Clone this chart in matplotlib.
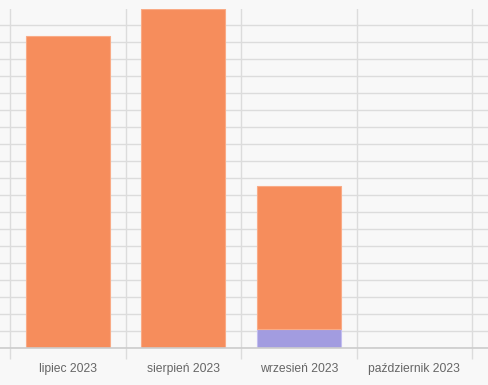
import matplotlib
matplotlib.use("Agg")
import matplotlib.pyplot as plt
import numpy as np

categories = ["lipiec 2023", "sierpień 2023", "wrzesień 2023", "październik 2023"]
series_purple = [0.0, 0.0, 1.1, 0.0]
series_orange = [18.35, 19.95, 8.45, 0.0]

fig = plt.figure(figsize=(4.88, 3.85), dpi=100)
fig.patch.set_facecolor("#f8f8f8")
ax = fig.add_axes([0, 37/385, 1, 339/385])
ax.set_facecolor("#f8f8f8")

x = np.arange(len(categories))
w = 0.73
ax.bar(x, series_purple, width=w, color="#a29ce0", edgecolor="#c2bdf0", linewidth=0.8, zorder=3)
ax.bar(x, series_orange, width=w, bottom=series_purple, color="#f68d5c", edgecolor="#f9ab86", linewidth=0.8, zorder=3)

ax.set_xlim(-0.5 - 10/115.5, -0.5 + 478/115.5)
ax.set_ylim(0, 339/17)
ax.set_yticks(np.arange(0, 20, 1))
ax.yaxis.grid(True, color="#dcdcdc", linewidth=1, zorder=0)
ax.tick_params(axis="y", left=False, labelleft=False)

ax.set_xticks(x)
ax.set_xticklabels(categories, fontsize=8.7, color="#666666", family="Liberation Sans")
ax.set_xticks(np.arange(-0.5, len(categories) + 0.5, 1), minor=True)
ax.tick_params(axis="x", which="major", length=0, pad=11)
ax.tick_params(axis="x", which="minor", length=8, color="#dcdcdc", width=1)
ax.xaxis.grid(True, which="minor", color="#dcdcdc", linewidth=1, zorder=0)
ax.xaxis.grid(False, which="major")

for s in ["top", "right", "left"]:
    ax.spines[s].set_visible(False)
ax.spines["bottom"].set_color("#cccccc")
ax.spines["bottom"].set_linewidth(1.2)
ax.spines["bottom"].set_zorder(4)

fig.savefig("out.png", dpi=100, facecolor=fig.get_facecolor())
